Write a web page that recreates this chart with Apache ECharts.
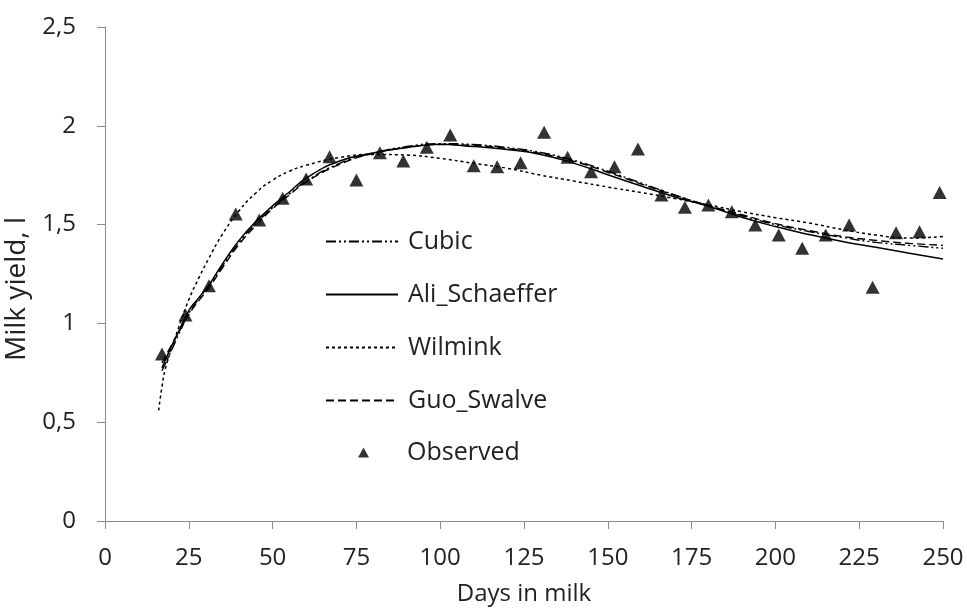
<!DOCTYPE html>
<html>
<head>
<meta charset="utf-8">
<script src="https://cdn.jsdelivr.net/npm/echarts@6/dist/echarts.min.js"></script>
<style>
html,body{margin:0;padding:0;background:#fff;}
#c{width:967px;height:610px;}
</style>
</head>
<body>
<div id="c"></div>
<script>
// ---- data ----
const curveDays   = [17, 20, 22, 25, 28, 31, 35, 40, 45, 50, 55, 60, 70, 80, 90, 100, 110, 120, 130, 140, 150, 160, 170, 180, 190, 200, 210, 220, 230, 240, 250];
const cubic       = [0.76, 0.87, 0.945, 1.05, 1.125, 1.19, 1.29, 1.41, 1.505, 1.585, 1.655, 1.72, 1.81, 1.862, 1.895, 1.91, 1.905, 1.89, 1.865, 1.825, 1.77, 1.71, 1.65, 1.595, 1.545, 1.50, 1.465, 1.435, 1.41, 1.395, 1.38];
const aliSchaeffer= [0.775, 0.89, 0.96, 1.065, 1.13, 1.195, 1.30, 1.42, 1.515, 1.595, 1.665, 1.735, 1.822, 1.862, 1.89, 1.906, 1.895, 1.88, 1.855, 1.81, 1.752, 1.695, 1.64, 1.593, 1.537, 1.49, 1.45, 1.415, 1.385, 1.355, 1.326];
const guoSwalve   = [0.80, 0.895, 0.955, 1.045, 1.115, 1.18, 1.28, 1.40, 1.495, 1.58, 1.65, 1.715, 1.805, 1.86, 1.89, 1.905, 1.90, 1.885, 1.86, 1.82, 1.765, 1.705, 1.648, 1.597, 1.55, 1.505, 1.47, 1.44, 1.42, 1.405, 1.395];
const wilminkDays = [16, 17, 18, 20, 22, 25, 28, 31, 35, 40, 45, 50, 55, 60, 70, 80, 90, 100, 110, 120, 130, 140, 150, 160, 170, 180, 190, 200, 210, 220, 230, 240, 250];
const wilmink     = [0.56, 0.68, 0.77, 0.88, 0.98, 1.12, 1.23, 1.33, 1.45, 1.57, 1.66, 1.725, 1.77, 1.80, 1.84, 1.855, 1.852, 1.835, 1.81, 1.785, 1.75, 1.72, 1.69, 1.662, 1.632, 1.60, 1.565, 1.535, 1.508, 1.475, 1.447, 1.432, 1.44];
const obsDays     = [17, 24, 31, 39, 46, 53, 60, 67, 75, 82, 89, 96, 103, 110, 117, 124, 131, 138, 145, 152, 159, 166, 173, 180, 187, 194, 201, 208, 215, 222, 229, 236, 243, 249];
const observed    = [0.845, 1.043, 1.19, 1.554, 1.523, 1.633, 1.731, 1.844, 1.726, 1.864, 1.822, 1.891, 1.953, 1.798, 1.793, 1.813, 1.967, 1.841, 1.768, 1.793, 1.883, 1.650, 1.588, 1.599, 1.565, 1.498, 1.447, 1.380, 1.447, 1.498, 1.183, 1.459, 1.464, 1.663];
const lineNames = ['Cubic', 'Ali_Schaeffer', 'Wilmink', 'Guo_Swalve'];
const pointName = 'Observed';
const xTicks = {min: 0, max: 250, step: 25};
const yTicks = {min: 0, max: 2.5, step: 0.5};

const zip = (xs, ys) => xs.map((x, i) => [x, ys[i]]);
const FONT = '"Open Sans", sans-serif';
const TXT = '#222';
const AX = '#8c8c8c';

const chart = echarts.init(document.getElementById('c'), null, {renderer: 'canvas'});
const lineSeries = (name, xs, ys, type, width) => ({
  name, type: 'line', data: zip(xs, ys), smooth: true, symbol: 'none', showSymbol: false,
  lineStyle: {color: '#000', width: width, type: type}, itemStyle: {color: '#000'},
  z: 2, animation: false
});

chart.setOption({
  animation: false,
  backgroundColor: '#fff',
  textStyle: {fontFamily: FONT},
  grid: {left: 105, right: 24, top: 27, bottom: 89, containLabel: false, outerBoundsMode: 'none'},
  legend: [{
    orient: 'vertical', left: 320, top: 224,
    itemWidth: 72, itemHeight: 14, itemGap: 28,
    textStyle: {fontFamily: FONT, fontSize: 25, color: TXT, lineHeight: 24, padding: [0, 0, 0, 5]},
    data: lineNames.map(n => ({name: n, itemStyle: {opacity: 0}}))
  }, {
    orient: 'vertical', left: 353, top: 435,
    itemWidth: 11, itemHeight: 10,
    textStyle: {fontFamily: FONT, fontSize: 25, color: TXT, lineHeight: 24, padding: [0, 0, 0, 33]},
    data: [{name: pointName, icon: 'triangle', itemStyle: {color: '#000'}}]
  }],
  xAxis: {
    type: 'value', min: xTicks.min, max: xTicks.max, interval: xTicks.step,
    name: 'Days in milk', nameLocation: 'middle', nameGap: 61,
    nameTextStyle: {fontFamily: FONT, fontSize: 24, color: TXT},
    axisLine: {show: true, lineStyle: {color: AX, width: 1}},
    axisTick: {show: true, length: 8, lineStyle: {color: AX}},
    axisLabel: {fontFamily: FONT, fontSize: 24, color: TXT, margin: 25},
    splitLine: {show: false}
  },
  yAxis: {
    type: 'value', min: yTicks.min, max: yTicks.max, interval: yTicks.step,
    name: 'Milk yield, l', nameLocation: 'middle', nameGap: 62, nameRotate: 90,
    nameTextStyle: {fontFamily: FONT, fontSize: 28, color: TXT, padding: [0, 30, 0, 0]},
    axisLine: {show: true, lineStyle: {color: AX, width: 1}},
    axisTick: {show: true, length: 8, lineStyle: {color: AX}},
    axisLabel: {fontFamily: FONT, fontSize: 24, color: TXT, margin: 29,
      formatter: v => String(v).replace('.', ',')},
    splitLine: {show: false}
  },
  series: [
    lineSeries(lineNames[0], curveDays, cubic, [10, 3, 2, 3, 2, 3], 1.4),
    lineSeries(lineNames[1], curveDays, aliSchaeffer, 'solid', 1.5),
    lineSeries(lineNames[2], wilminkDays, wilmink, [3, 3], 1.5),
    lineSeries(lineNames[3], curveDays, guoSwalve, [8, 4], 1.4),
    {name: pointName, type: 'scatter', data: zip(obsDays, observed), symbol: 'triangle',
      symbolSize: [14, 13], itemStyle: {color: '#000'}, z: 3}
  ]
});
</script>
</body>
</html>
